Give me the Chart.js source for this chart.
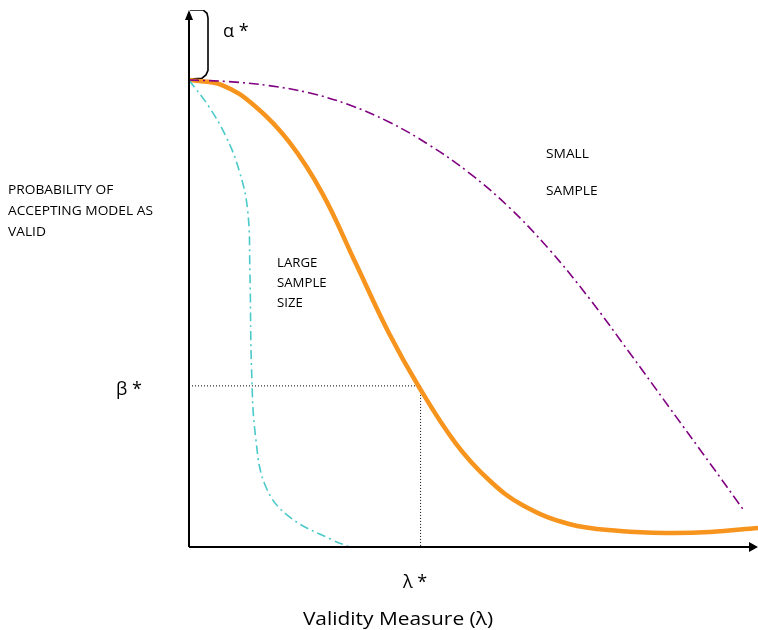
<!DOCTYPE html>
<html>
<head>
<meta charset="utf-8">
<script src="https://cdn.jsdelivr.net/npm/chart.js@4/dist/chart.umd.min.js"></script>
<style>
  body { margin: 0; background: #fff; }
  canvas { display: block; }
</style>
</head>
<body>
<canvas id="myChart" width="758" height="630"></canvas>
<script>
'use strict'

// operating characteristic curves, x = validity measure (0..100), y = probability
const smallX = [0, 7.03, 14.06, 21.09, 28.12, 35.15, 42.18, 49.21, 56.24, 63.27, 70.30, 77.33, 84.36, 91.39, 97.72];
const smallY = [1.0, 0.9966, 0.988, 0.9726, 0.9469, 0.9101, 0.8612, 0.8013, 0.7276, 0.6377, 0.5332, 0.4176, 0.2998, 0.182, 0.0749];

const midX = [0, 5.80, 11.72, 17.57, 23.43, 29.30, 35.15, 40.42, 46.87, 52.72, 58.58, 66.78, 75.75, 84.01, 91.56, 100];
const midY = [1.0, 0.9893, 0.9428, 0.8679, 0.7574, 0.6075, 0.4576, 0.3426, 0.2221, 0.1435, 0.0899, 0.0493, 0.0343, 0.030, 0.0321, 0.0407];

const largeX = [0, 3.5, 6.5, 8.8, 10.3, 10.7, 11.0, 11.7, 13.5, 17.6, 25.2, 28.3];
const largeY = [1.0, 0.943, 0.879, 0.807, 0.722, 0.593, 0.379, 0.236, 0.129, 0.065, 0.015, 0];

const lambdaStar = 40.7;
const betaStar = 0.345;

// bracket marking alpha* at the top of the y axis
const braceX = [0.18, 2.46, 3.16, 3.34, 3.34, 2.99, 2.28, 0.18];
const braceY = [1.15, 1.15, 1.143, 1.133, 1.021, 1.011, 1.004, 1.002];

const yTop = 1.15;

const toPts = (xs, ys) => xs.map((x, i) => ({x: x, y: ys[i]}));

// source text is a little wider than Open Sans, so stretch it a bit
const drawText = (ctx, txt, x, y, size, align, stretch) => {
  ctx.save();
  ctx.font = size + 'px "Open Sans"';
  ctx.textAlign = align;
  ctx.translate(x, y);
  ctx.scale(stretch, 1);
  ctx.fillText(txt, 0, 0);
  ctx.restore();
};

const textPlugin = {
  id: 'axesAndText',
  afterDatasetsDraw(chart) {
    const ctx = chart.ctx;
    const xs = chart.scales.x;
    const ys = chart.scales.y;
    const x0 = xs.getPixelForValue(0);
    const y0 = ys.getPixelForValue(0);
    const yT = ys.getPixelForValue(yTop);
    const xR = xs.getPixelForValue(100);

    ctx.save();
    ctx.strokeStyle = '#000';
    ctx.fillStyle = '#000';
    ctx.lineWidth = 2;
    ctx.beginPath();
    ctx.moveTo(x0, y0);
    ctx.lineTo(x0, yT + 8);
    ctx.moveTo(x0, y0);
    ctx.lineTo(xR - 6, y0);
    ctx.stroke();

    // arrow heads
    ctx.beginPath();
    ctx.moveTo(x0, yT);
    ctx.lineTo(x0 - 4, yT + 10);
    ctx.lineTo(x0 + 4, yT + 10);
    ctx.closePath();
    ctx.fill();
    ctx.beginPath();
    ctx.moveTo(xR, y0);
    ctx.lineTo(xR - 9, y0 - 5);
    ctx.lineTo(xR - 9, y0 + 5);
    ctx.closePath();
    ctx.fill();

    ctx.fillStyle = '#000';
    ctx.textBaseline = 'alphabetic';
    drawText(ctx, 'α *', 223, 37, 18, 'left', 1);
    drawText(ctx, 'β *', 116, 395, 18, 'left', 1);
    drawText(ctx, 'λ *', 415, 588, 18, 'center', 1);
    drawText(ctx, 'Validity Measure (λ)', 398, 625, 19, 'center', 1.1);

    drawText(ctx, 'PROBABILITY OF', 8, 194, 12.5, 'left', 1.1);
    drawText(ctx, 'ACCEPTING MODEL AS', 8, 215, 12.5, 'left', 1.1);
    drawText(ctx, 'VALID', 8, 236, 12.5, 'left', 1.1);

    drawText(ctx, 'SMALL', 546, 158, 12.5, 'left', 1.1);
    drawText(ctx, 'SAMPLE', 546, 195, 12.5, 'left', 1.1);
    drawText(ctx, 'LARGE', 277, 267, 12, 'left', 1.1);
    drawText(ctx, 'SAMPLE', 277, 287, 12, 'left', 1.1);
    drawText(ctx, 'SIZE', 277, 307, 12, 'left', 1.1);
    ctx.restore();
  }
};

const ctxEl = document.getElementById('myChart');

new Chart(ctxEl, {
  type: 'line',
  data: {
    datasets: [
      {
        data: toPts(smallX, smallY),
        borderColor: '#800080',
        borderWidth: 1.6,
        borderDash: [10, 4, 2, 4],
        tension: 0.4
      },
      {
        data: toPts(largeX, largeY),
        borderColor: '#4cc9c9',
        borderWidth: 1.6,
        borderDash: [9, 4, 2, 4],
        tension: 0.4
      },
      {
        data: toPts(midX, midY),
        borderColor: '#f7941d',
        borderWidth: 4.5,
        tension: 0.4
      },
      {
        data: [{x: 0, y: betaStar}, {x: lambdaStar, y: betaStar}],
        borderColor: '#000',
        borderWidth: 1,
        borderDash: [1, 2]
      },
      {
        data: [{x: lambdaStar, y: betaStar}, {x: lambdaStar, y: 0}],
        borderColor: '#000',
        borderWidth: 1,
        borderDash: [1, 2]
      },
      {
        data: toPts(braceX, braceY),
        borderColor: '#000',
        borderWidth: 1.6,
        tension: 0
      }
    ]
  },
  options: {
    responsive: false,
    animation: false,
    devicePixelRatio: 1,
    layout: {padding: {left: 189, right: 0, top: 10, bottom: 83}},
    elements: {point: {radius: 0}},
    plugins: {legend: {display: false}, tooltip: {enabled: false}},
    scales: {
      x: {type: 'linear', min: 0, max: 100, display: false},
      y: {type: 'linear', min: 0, max: yTop, display: false}
    }
  },
  plugins: [textPlugin]
});
</script>
</body>
</html>
